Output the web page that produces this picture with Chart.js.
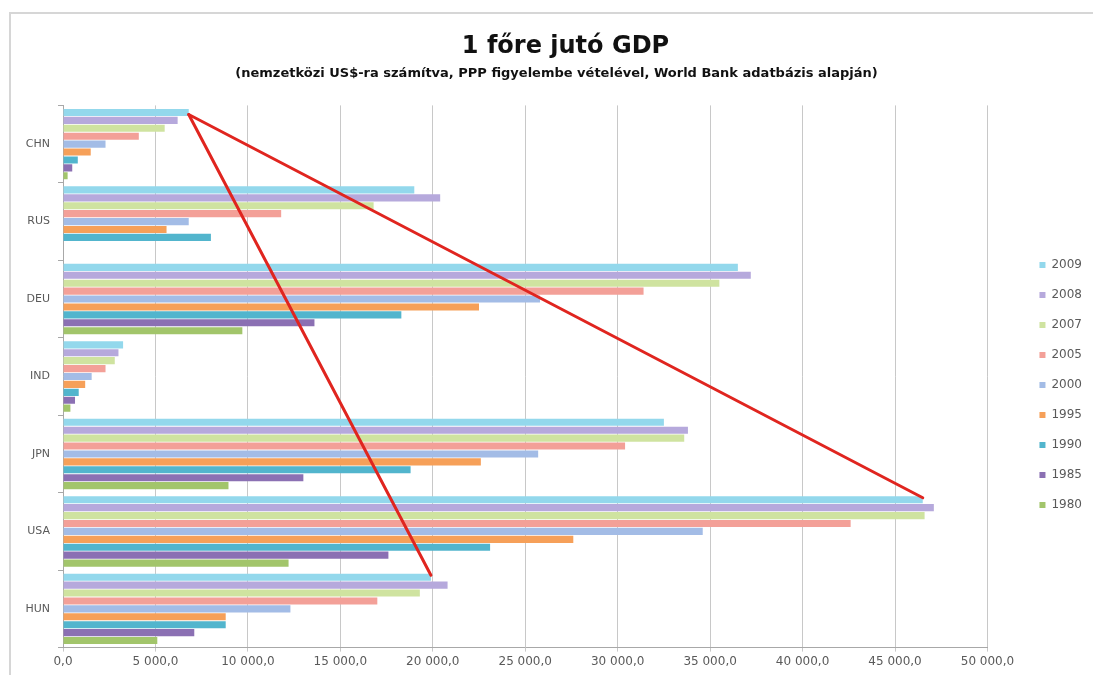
<!DOCTYPE html>
<html lang="hu">
<head>
<meta charset="utf-8">
<title>1 főre jutó GDP</title>
<script src="https://cdn.jsdelivr.net/npm/chart.js@4.4.1/dist/chart.umd.min.js"></script>
<style>
  html, body { margin: 0; padding: 0; background: #fff; overflow: hidden; }
  #frame {
    position: absolute; left: 9px; top: 12px;
    width: 1108px; height: 700px;
    border: 2px solid #d6d6d6;
    background: #fff;
  }
  #c { display: block; }
</style>
</head>
<body>
<div id="frame"><canvas id="c" width="1108" height="700"></canvas></div>
<script>
// kategóriák (országok) és évek
const countries = ['CHN', 'RUS', 'DEU', 'IND', 'JPN', 'USA', 'HUN'];
const years = ['2009', '2008', '2007', '2005', '2000', '1995', '1990', '1985', '1980'];

// 1 főre jutó GDP (PPP, nemzetközi US$)
const gdp2009 = [6800, 19000, 36500, 3250, 32500, 46500, 19900];
const gdp2008 = [6200, 20400, 37200, 3000, 33800, 47100, 20800];
const gdp2007 = [5500, 16800, 35500, 2800, 33600, 46600, 19300];
const gdp2005 = [4100, 11800, 31400, 2300, 30400, 42600, 17000];
const gdp2000 = [2300, 6800, 25800, 1550, 25700, 34600, 12300];
const gdp1995 = [1500, 5600, 22500, 1200, 22600, 27600, 8800];
const gdp1990 = [800, 8000, 18300, 850, 18800, 23100, 8800];
const gdp1985 = [500, null, 13600, 650, 13000, 17600, 7100];
const gdp1980 = [250, null, 9700, 400, 8950, 12200, 5100];

const xTicksMax = 50000;
const xTicksStep = 5000;

// piros kiemelő vonalak: CHN 2009 -> USA 2009, HUN 2009
const lineFrom = 'CHN';
const lineTo = ['USA', 'HUN'];

const seriesValues = [gdp2009, gdp2008, gdp2007, gdp2005, gdp2000, gdp1995, gdp1990, gdp1985, gdp1980];
const seriesColors = ['#93d8ec', '#b6a9dc', '#cfe3a0', '#f3a098', '#a3bce6', '#f6a059', '#52b5cd', '#8b70b3', '#a2c56b'];

const fmt = v => String(v).replace(/\B(?=(\d{3})+(?!\d))/g, ' ') + ',0';

const redLines = {
    id: 'redLines',
    afterDatasetsDraw(chart) {
        const meta = chart.getDatasetMeta(0);
        const from = meta.data[countries.indexOf(lineFrom)];
        const ctx = chart.ctx;
        ctx.save();
        ctx.strokeStyle = '#e0251f';
        ctx.lineWidth = 3;
        ctx.lineCap = 'round';
        lineTo.forEach(c => {
            const to = meta.data[countries.indexOf(c)];
            ctx.beginPath();
            ctx.moveTo(from.x, from.y + 2);
            ctx.lineTo(to.x, to.y - 2);
            ctx.stroke();
        });
        ctx.restore();
    }
};

// jelmagyarázat és címek eltolása (Excel-szerű elrendezés)
const boxShift = {
    id: 'boxShift',
    afterLayout(chart) {
        const lg = chart.legend;
        lg.left += 34; lg.right += 34;
        lg.top += 42; lg.bottom += 42;
        chart.boxes.filter(b => b.position === 'top').forEach(b => {
            const dx = b === chart.titleBlock ? 27 : 18;
            b.left += dx; b.right += dx;
        });
    }
};

new Chart(document.getElementById('c'), {
    type: 'bar',
    data: {
        labels: countries,
        datasets: years.map((y, i) => ({
            label: y,
            data: seriesValues[i],
            backgroundColor: seriesColors[i],
            borderWidth: 0,
            barPercentage: 0.9,
            categoryPercentage: 0.92
        }))
    },
    options: {
        indexAxis: 'y',
        responsive: false,
        animation: false,
        layout: { padding: { left: 8, right: 61, bottom: 42 } },
        scales: {
            x: {
                min: 0, max: xTicksMax,
                ticks: {
                    stepSize: xTicksStep,
                    color: '#5a5a5a',
                    font: { family: 'DejaVu Sans', size: 12 },
                    padding: 3,
                    callback: v => fmt(v)
                },
                grid: { color: '#c8c8c8', tickLength: 4 },
                border: { color: '#a8a8a8' }
            },
            y: {
                afterFit: s => { s.width = 44; },
                ticks: {
                    color: '#5a5a5a',
                    font: { family: 'DejaVu Sans', size: 11 },
                    padding: 8
                },
                grid: { offset: true, drawOnChartArea: false, tickLength: 5, color: '#a8a8a8' },
                border: { color: '#a8a8a8' }
            }
        },
        plugins: {
            title: {
                display: true,
                text: '1 főre jutó GDP',
                color: '#111',
                font: { family: 'DejaVu Sans', size: 24, weight: 'bold' },
                padding: { top: 18, bottom: 2 }
            },
            subtitle: {
                display: true,
                text: '(nemzetközi US$-ra számítva, PPP figyelembe vételével, World Bank adatbázis alapján)',
                color: '#111',
                font: { family: 'DejaVu Sans', size: 13, weight: 'bold' },
                padding: { top: 3, bottom: 24 }
            },
            legend: {
                position: 'right',
                align: 'center',
                labels: {
                    boxWidth: 6, boxHeight: 6,
                    padding: 18,
                    color: '#5a5a5a',
                    font: { family: 'DejaVu Sans', size: 12 }
                }
            },
            tooltip: { enabled: false }
        }
    },
    plugins: [redLines, boxShift]
});
</script>
</body>
</html>
